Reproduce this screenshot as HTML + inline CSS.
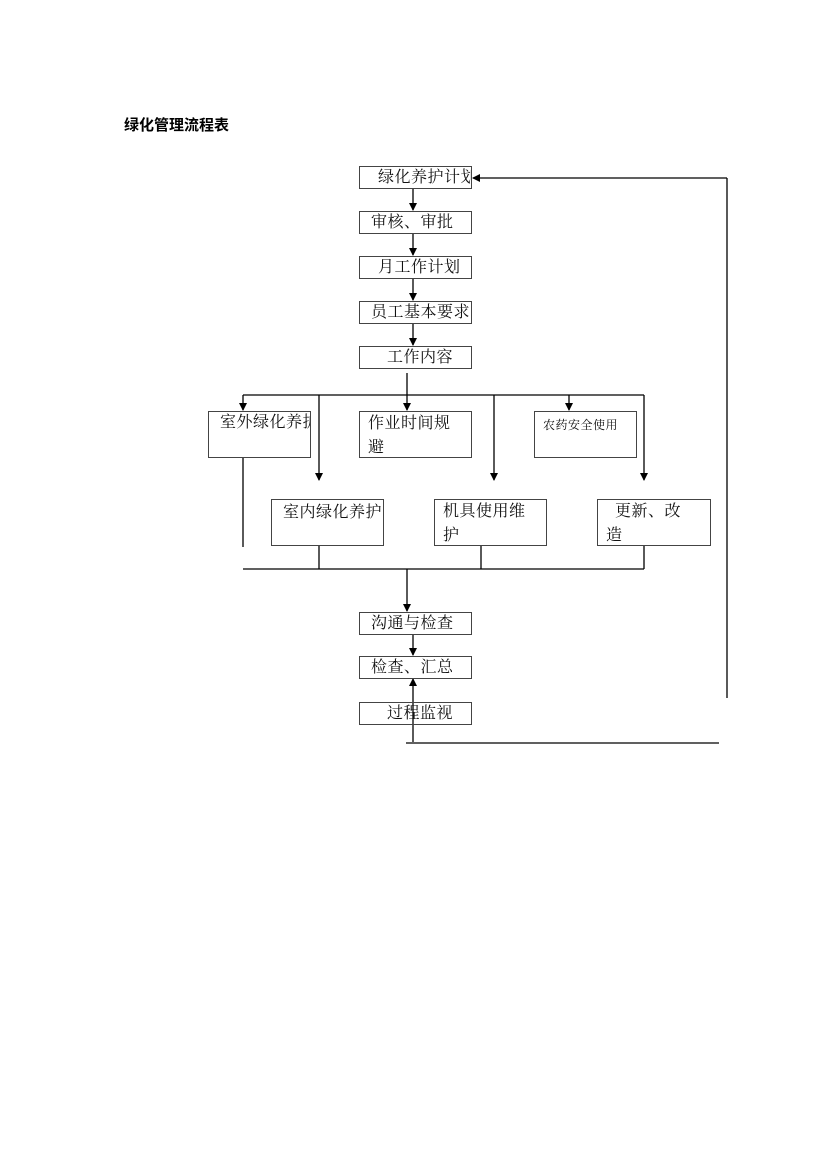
<!DOCTYPE html>
<html><head><meta charset="utf-8"><style>
body{margin:0;background:#fff;}
.w{position:relative;width:830px;height:1174px;font-family:"Liberation Serif","Noto Serif CJK SC",serif;}
.t{position:absolute;left:124px;top:114px;font:bold 15px "Liberation Sans","Noto Sans CJK SC",sans-serif;}
.b{position:absolute;border:1px solid #444;box-sizing:border-box;font-size:16px;line-height:19px;color:#111;white-space:nowrap;overflow:hidden;letter-spacing:0.5px}
.m{line-height:24px;padding-top:0 !important}
</style></head><body><div class="w">
<div class="t">绿化管理流程表</div>
<svg width="830" height="1174" style="position:absolute;left:0;top:0">
<defs><marker id="a" markerWidth="8" markerHeight="8" refX="7" refY="4" orient="auto" markerUnits="userSpaceOnUse"><path d="M0,0L8,4L0,8z" fill="#000"/></marker></defs>
<g stroke="#000" stroke-width="1.3" fill="none">
<line x1="413" y1="188" x2="413" y2="210" marker-end="url(#a)"/>
<line x1="413" y1="233" x2="413" y2="255" marker-end="url(#a)"/>
<line x1="413" y1="278" x2="413" y2="300" marker-end="url(#a)"/>
<line x1="413" y1="323" x2="413" y2="345" marker-end="url(#a)"/>
<line x1="407" y1="373" x2="407" y2="410" marker-end="url(#a)"/>
<line x1="243" y1="395" x2="644" y2="395"/>
<line x1="243" y1="395" x2="243" y2="410" marker-end="url(#a)"/>
<line x1="319" y1="395" x2="319" y2="480" marker-end="url(#a)"/>
<line x1="494" y1="395" x2="494" y2="480" marker-end="url(#a)"/>
<line x1="569" y1="395" x2="569" y2="410" marker-end="url(#a)"/>
<line x1="644" y1="395" x2="644" y2="480" marker-end="url(#a)"/>
<line x1="243" y1="457" x2="243" y2="547"/>
<line x1="243" y1="569" x2="644" y2="569"/>
<line x1="319" y1="545" x2="319" y2="569"/>
<line x1="481" y1="545" x2="481" y2="569"/>
<line x1="644" y1="545" x2="644" y2="569"/>
<line x1="407" y1="569" x2="407" y2="611" marker-end="url(#a)"/>
<line x1="413" y1="634" x2="413" y2="655" marker-end="url(#a)"/>
<line x1="413" y1="742" x2="413" y2="679" marker-end="url(#a)"/>
<line x1="406" y1="743" x2="719" y2="743"/>
<line x1="727" y1="698" x2="727" y2="178"/>
<line x1="727" y1="178" x2="473" y2="178" marker-end="url(#a)"/>
</g></svg>
<div class="b" style="left:359px;top:166px;width:113px;height:23px;padding:1px 0 0 18px">绿化养护计划</div>
<div class="b" style="left:359px;top:211px;width:113px;height:23px;padding:1px 0 0 11px">审核、审批</div>
<div class="b" style="left:359px;top:256px;width:113px;height:23px;padding:1px 0 0 18px">月工作计划</div>
<div class="b" style="left:359px;top:301px;width:113px;height:23px;padding:1px 0 0 11px">员工基本要求</div>
<div class="b" style="left:359px;top:346px;width:113px;height:23px;padding:1px 0 0 27px">工作内容</div>
<div class="b" style="left:208px;top:411px;width:103px;height:47px;padding:1px 0 0 11px">室外绿化养护</div>
<div class="b m" style="left:359px;top:411px;width:113px;height:47px;padding:1px 0 0 8px">作业时间规<br>避</div>
<div class="b" style="left:534px;top:411px;width:103px;height:47px;padding:4px 0 0 8px;font-size:12px">农药安全使用</div>
<div class="b" style="left:271px;top:499px;width:113px;height:47px;padding:3px 0 0 11px">室内绿化养护</div>
<div class="b m" style="left:434px;top:499px;width:113px;height:47px;padding:1px 0 0 8px">机具使用维<br>护</div>
<div class="b m" style="left:597px;top:499px;width:114px;height:47px;padding:1px 0 0 8px">&nbsp;&nbsp;更新、改<br>造</div>
<div class="b" style="left:359px;top:612px;width:113px;height:23px;padding:1px 0 0 11px">沟通与检查</div>
<div class="b" style="left:359px;top:656px;width:113px;height:23px;padding:1px 0 0 11px">检查、汇总</div>
<div class="b" style="left:359px;top:702px;width:113px;height:23px;padding:1px 0 0 27px">过程监视</div>
</div></body></html>
